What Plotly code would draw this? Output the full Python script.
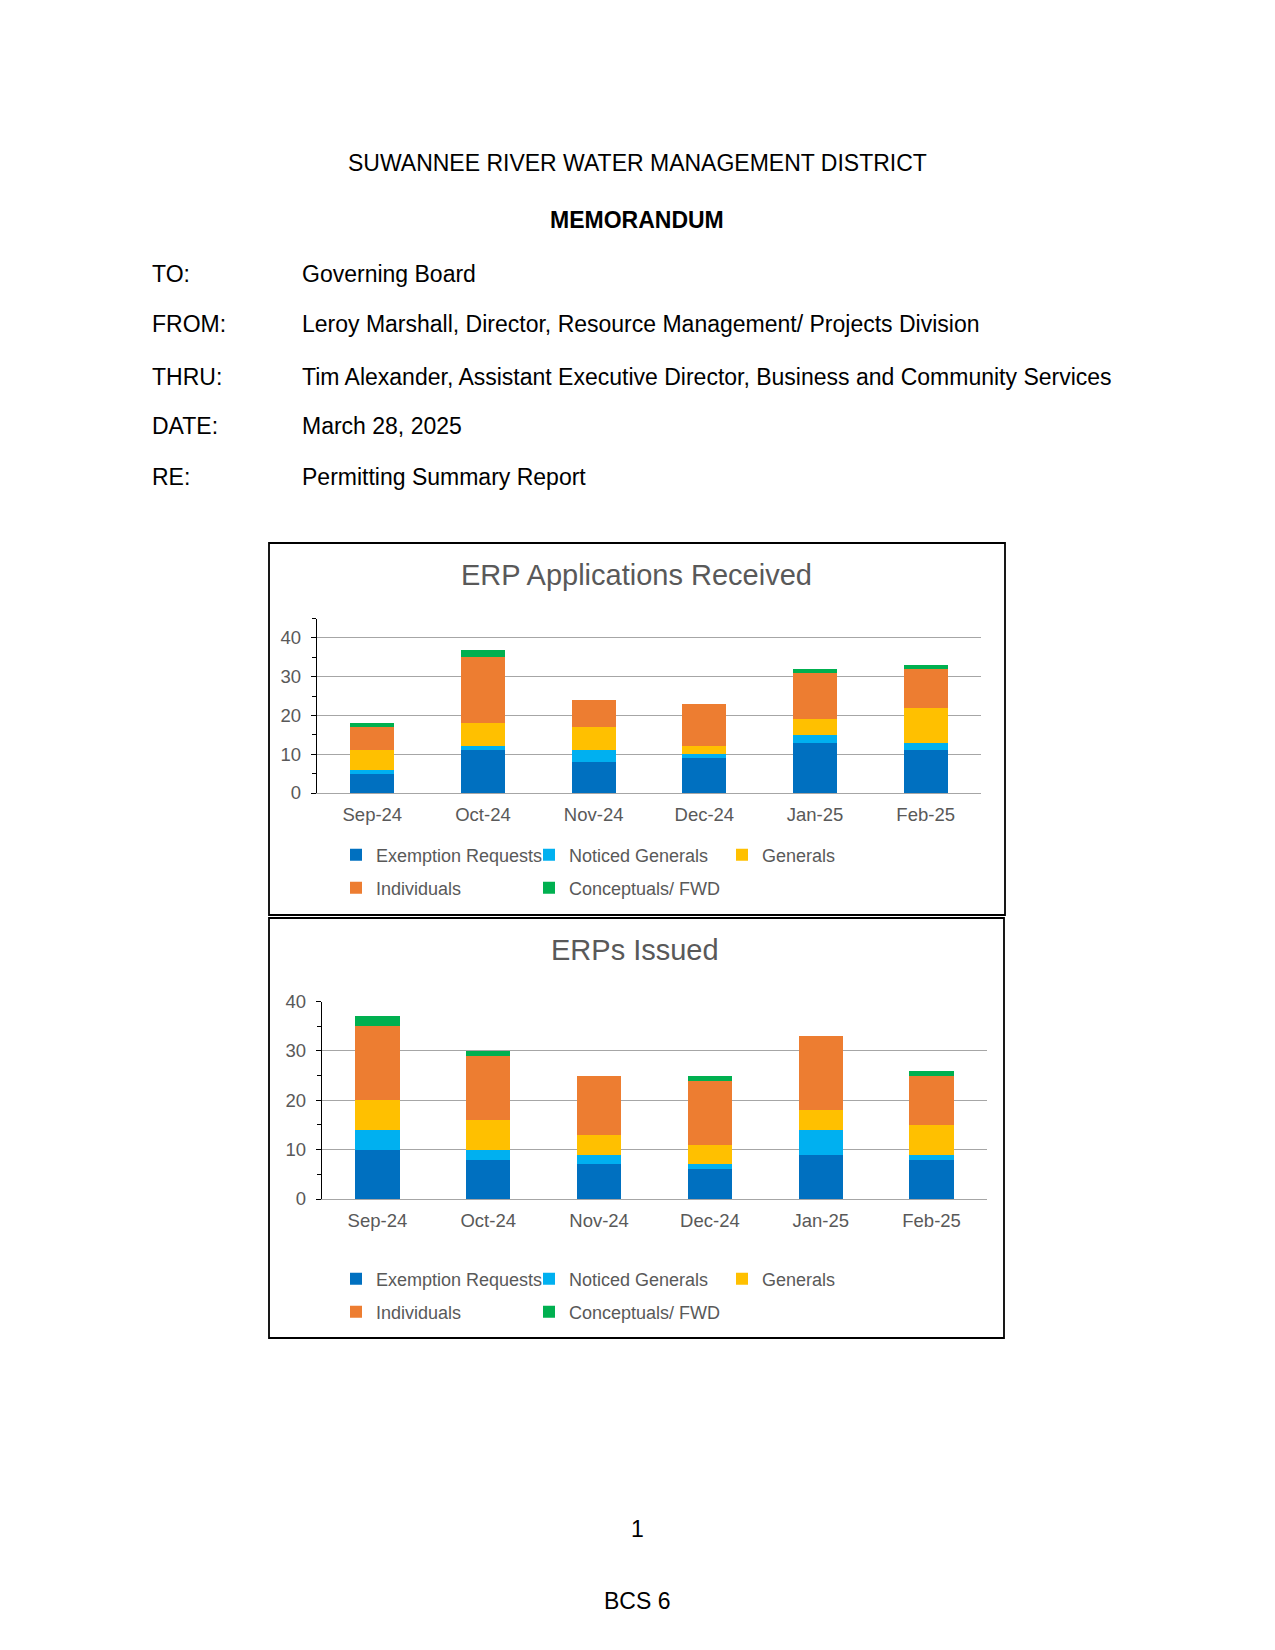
import plotly.graph_objects as go

# ---------------- data ----------------
months = ["Sep-24", "Oct-24", "Nov-24", "Dec-24", "Jan-25", "Feb-25"]
series_names = ["Exemption Requests", "Noticed Generals", "Generals",
                "Individuals", "Conceptuals/ FWD"]
series_colors = ["#0070C0", "#00B0F0", "#FFC000", "#ED7D31", "#00B050"]

received_exemption = [5, 11, 8, 9, 13, 11]
received_noticed = [1, 1, 3, 1, 2, 2]
received_generals = [5, 6, 6, 2, 4, 9]
received_individuals = [6, 17, 7, 11, 12, 10]
received_conceptuals = [1, 2, 0, 0, 1, 1]

issued_exemption = [10, 8, 7, 6, 9, 8]
issued_noticed = [4, 2, 2, 1, 5, 1]
issued_generals = [6, 6, 4, 4, 4, 6]
issued_individuals = [15, 13, 12, 13, 15, 10]
issued_conceptuals = [2, 1, 0, 1, 0, 1]

y_ticks = [0, 10, 20, 30, 40]

header_lines = [("TO:", "Governing Board"),
                ("FROM:", "Leroy Marshall, Director, Resource Management/ Projects Division"),
                ("THRU:", "Tim Alexander, Assistant Executive Director, Business and Community Services"),
                ("DATE:", "March 28, 2025"),
                ("RE:", "Permitting Summary Report")]

# ---------------- layout helpers ----------------
W, H = 1275, 1650
FONT = "Liberation Sans, Arial, sans-serif"
GRAY_TXT = "#595959"
GRID = "#A6A6A6"


def px(x):
    return x / W


def py(y):
    return 1 - y / H


fig = go.Figure()

received = [received_exemption, received_noticed, received_generals,
            received_individuals, received_conceptuals]
issued = [issued_exemption, issued_noticed, issued_generals,
          issued_individuals, issued_conceptuals]

for i, (name, color, vals) in enumerate(zip(series_names, series_colors, received)):
    fig.add_trace(go.Bar(x=months, y=vals, name=name, marker_color=color,
                         marker_line_width=0, xaxis="x", yaxis="y",
                         legend="legend" if i < 3 else "legend2"))
for i, (name, color, vals) in enumerate(zip(series_names, series_colors, issued)):
    fig.add_trace(go.Bar(x=months, y=vals, name=name, marker_color=color,
                         marker_line_width=0, xaxis="x2", yaxis="y2",
                         legend="legend3" if i < 3 else "legend4"))

xcommon = dict(showline=True, linecolor=GRID, linewidth=1.3, ticks="",
               showgrid=False, zeroline=False, automargin=False,
               tickfont=dict(family=FONT, size=18.5, color=GRAY_TXT),
               ticklabelstandoff=5)
ycommon = dict(tickvals=y_ticks, showgrid=True, gridcolor=GRID, gridwidth=1.3,
               showline=True, linecolor="black", linewidth=1.3,
               ticks="outside", ticklen=5, tickcolor="black", tickwidth=1.3,
               minor=dict(dtick=5, tick0=0, ticks="outside", ticklen=4,
                          tickcolor="black", tickwidth=1.3, showgrid=False),
               zeroline=False, ticklabelstandoff=6, automargin=False,
               tickfont=dict(family=FONT, size=18.5, color=GRAY_TXT))

fig.update_layout(
    width=W, height=H,
    margin=dict(l=0, r=0, t=0, b=0, autoexpand=False),
    paper_bgcolor="white", plot_bgcolor="white",
    barmode="stack", bargap=0.6,
    font=dict(family=FONT, color=GRAY_TXT),
    xaxis=dict(domain=[px(317), px(981)], anchor="y", **xcommon),
    yaxis=dict(domain=[py(793), py(618.6)], anchor="x", range=[0, 45], **ycommon),
    xaxis2=dict(domain=[px(322), px(987)], anchor="y2", **xcommon),
    yaxis2=dict(domain=[py(1199), py(1001.5)], anchor="x2", range=[0, 40], **ycommon),
)

leg_common = dict(orientation="h", xanchor="left", yanchor="middle",
                  entrywidth=148, entrywidthmode="pixels",
                  bgcolor="rgba(0,0,0,0)", traceorder="normal",
                  font=dict(family=FONT, size=18, color=GRAY_TXT))
fig.update_layout(
    legend=dict(x=px(336), y=py(855), **leg_common),
    legend2=dict(x=px(336), y=py(888), **leg_common),
    legend3=dict(x=px(336), y=py(1279), **leg_common),
    legend4=dict(x=px(336), y=py(1312), **leg_common),
)

# chart frames
fig.add_shape(type="rect", xref="paper", yref="paper",
              x0=px(269), x1=px(1005), y0=py(915), y1=py(543),
              line=dict(color="black", width=1.8), layer="below")
fig.add_shape(type="rect", xref="paper", yref="paper",
              x0=px(269), x1=px(1004), y0=py(1338), y1=py(918),
              line=dict(color="black", width=1.8), layer="below")

# chart titles
fig.add_annotation(text="ERP Applications Received", x=px(636), y=py(575),
                   xref="paper", yref="paper", showarrow=False,
                   xanchor="center", yanchor="middle",
                   font=dict(family=FONT, size=29, color=GRAY_TXT))
fig.add_annotation(text="ERPs Issued", x=px(635), y=py(950),
                   xref="paper", yref="paper", showarrow=False,
                   xanchor="center", yanchor="middle",
                   font=dict(family=FONT, size=29, color=GRAY_TXT))

# memo text
BLACK = "black"
fig.add_annotation(text="SUWANNEE RIVER WATER MANAGEMENT DISTRICT",
                   x=px(637), y=py(163), xref="paper", yref="paper",
                   showarrow=False, xanchor="center", yanchor="middle",
                   font=dict(family=FONT, size=23, color=BLACK))
fig.add_annotation(text="<b>MEMORANDUM</b>",
                   x=px(637), y=py(220), xref="paper", yref="paper",
                   showarrow=False, xanchor="center", yanchor="middle",
                   font=dict(family=FONT, size=23, color=BLACK))
row_y = [274, 324, 377, 426, 477]
for (lab, val), yy in zip(header_lines, row_y):
    fig.add_annotation(text=lab, x=px(150), y=py(yy), xref="paper", yref="paper",
                       showarrow=False, xanchor="left", yanchor="middle",
                       font=dict(family=FONT, size=23, color=BLACK))
    fig.add_annotation(text=val, x=px(300), y=py(yy), xref="paper", yref="paper",
                       showarrow=False, xanchor="left", yanchor="middle",
                       font=dict(family=FONT, size=23, color=BLACK))

fig.add_annotation(text="1", x=px(637), y=py(1529), xref="paper", yref="paper",
                   showarrow=False, xanchor="center", yanchor="middle",
                   font=dict(family=FONT, size=23, color=BLACK))
fig.add_annotation(text="BCS 6", x=px(637), y=py(1601), xref="paper", yref="paper",
                   showarrow=False, xanchor="center", yanchor="middle",
                   font=dict(family=FONT, size=23, color=BLACK))

fig.write_html("out.html", config={"displayModeBar": False},
               post_script="document.body.style.margin='0';")
